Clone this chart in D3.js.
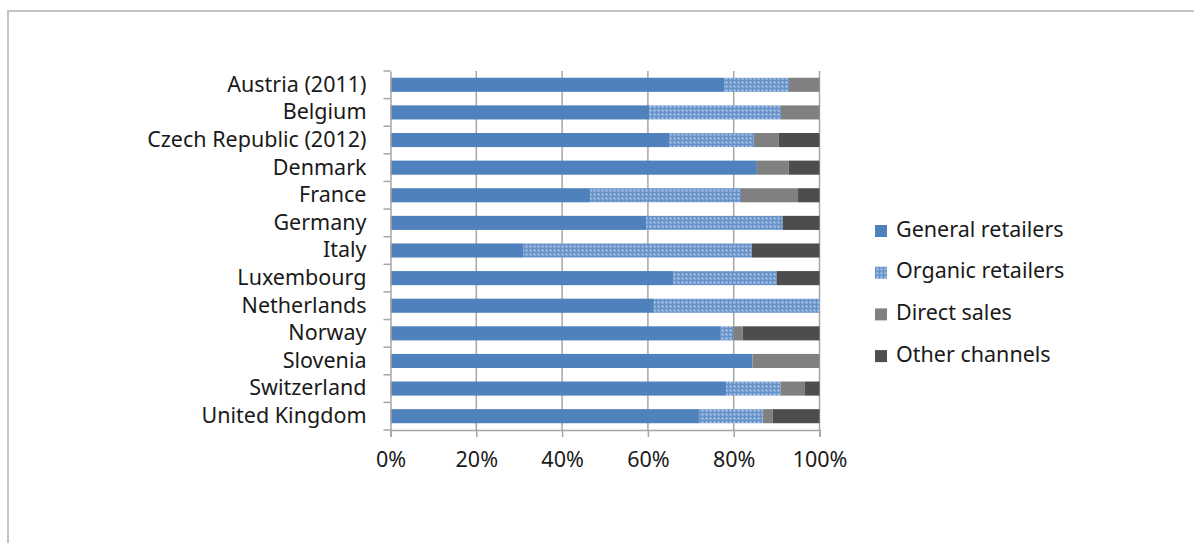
<!DOCTYPE html>
<html>
<head>
<meta charset="utf-8">
<script src="https://cdn.jsdelivr.net/npm/d3@7"></script>
<style>
  body { margin: 0; background: #fff; }
  svg text { font-family: 'Noto Sans', sans-serif; fill: #1a1a1a; }
</style>
</head>
<body>
<div id="chart"></div>
<script>
const countries = ['Austria (2011)', 'Belgium', 'Czech Republic (2012)', 'Denmark', 'France', 'Germany',
  'Italy', 'Luxembourg', 'Netherlands', 'Norway', 'Slovenia', 'Switzerland', 'United Kingdom'];
const seriesNames = ['General retailers', 'Organic retailers', 'Direct sales', 'Other channels'];
const general = [77.8, 60.4, 65.1, 85.4, 46.5, 59.7, 30.9, 66.0, 61.4, 77.0, 84.4, 78.2, 71.9];
const organic = [15.1, 30.6, 19.6, 0, 35.2, 31.7, 53.3, 24.0, 38.6, 2.9, 0, 12.7, 14.9];
const direct = [7.1, 9.0, 5.8, 7.4, 13.3, 0, 0, 0, 0, 2.2, 15.6, 5.6, 2.3];
const other = [0, 0, 9.5, 7.2, 5.0, 8.6, 15.8, 10.0, 0, 17.9, 0, 3.5, 10.9];
const xTicks = [0, 20, 40, 60, 80, 100];

const w = 1194, h = 543;
const plotLeft = 390.5, plotRight = 819.5, plotTop = 71, plotBottom = 430;

const svg = d3.select('#chart').append('svg')
  .attr('width', w)
  .attr('height', h);

// organic retailers hatch
const pat = svg.append('defs').append('pattern')
  .attr('id', 'organic')
  .attr('width', 4)
  .attr('height', 4)
  .attr('patternUnits', 'userSpaceOnUse');
pat.append('rect').attr('width', 4).attr('height', 4).attr('fill', '#84a8d6');
pat.append('rect').attr('width', 1).attr('height', 4).attr('fill', '#6792c9');
pat.append('rect').attr('width', 4).attr('height', 1).attr('fill', '#6792c9');
pat.append('rect').attr('x', 2).attr('y', 2).attr('width', 1).attr('height', 1).attr('fill', '#c2d4ec');

// outer frame
svg.append('rect')
  .attr('x', 8).attr('y', 11)
  .attr('width', w + 20).attr('height', h + 20)
  .attr('fill', 'none')
  .attr('stroke', '#c4c4c4')
  .attr('stroke-width', 2);

const xScale = d3.scaleLinear().domain([0, 100]).range([plotLeft, plotRight]);
const yScale = d3.scaleBand().domain(countries).range([plotTop, plotBottom]).paddingInner(0.49).paddingOuter(0.245);

// gridlines
svg.append('g')
  .selectAll('line')
  .data(xTicks.slice(1))
  .enter()
  .append('line')
  .attr('x1', d => xScale(d)).attr('x2', d => xScale(d))
  .attr('y1', plotTop).attr('y2', plotBottom)
  .attr('stroke', '#a6a6a6')
  .attr('stroke-width', 1.5);

const colors = ['#4f81bd', 'url(#organic)', '#808080', '#4d4d4d'];
const table = countries.map((c, i) => ({
  country: c,
  'General retailers': general[i],
  'Organic retailers': organic[i],
  'Direct sales': direct[i],
  'Other channels': other[i]
}));
const stacked = d3.stack().keys(seriesNames)(table);

svg.append('g')
  .selectAll('g')
  .data(stacked)
  .enter()
  .append('g')
  .attr('fill', (d, i) => colors[i])
  .selectAll('rect')
  .data(d => d)
  .enter()
  .append('rect')
  .attr('x', d => xScale(d[0]))
  .attr('width', d => Math.max(0, xScale(d[1]) - xScale(d[0])))
  .attr('y', d => yScale(d.data.country))
  .attr('height', yScale.bandwidth());

// axes
const xAxis = d3.axisBottom(xScale).tickValues(xTicks).tickFormat(d => d + '%').tickSize(7).tickPadding(15);
const gx = svg.append('g')
  .attr('transform', `translate(0, ${plotBottom})`)
  .call(xAxis);

const yAxis = d3.axisLeft(yScale).tickSize(0).tickPadding(24);
const gy = svg.append('g')
  .attr('transform', `translate(${plotLeft}, 0)`)
  .call(yAxis);

// category boundary ticks
const step = yScale.step();
svg.append('g')
  .selectAll('line')
  .data(d3.range(countries.length + 1))
  .enter()
  .append('line')
  .attr('x1', plotLeft - 7).attr('x2', plotLeft)
  .attr('y1', d => plotTop + d * step).attr('y2', d => plotTop + d * step)
  .attr('stroke', '#a6a6a6')
  .attr('stroke-width', 1.5);

svg.selectAll('.domain').attr('stroke', '#a6a6a6').attr('stroke-width', 1.5);
svg.selectAll('.tick line').attr('stroke', '#a6a6a6').attr('stroke-width', 1.5);
svg.selectAll('.tick text').attr('font-size', 21.5).attr('fill', '#1a1a1a');

// legend
const legend = svg.append('g')
  .selectAll('g')
  .data(seriesNames)
  .enter()
  .append('g')
  .attr('transform', (d, i) => `translate(875, ${229 + i * 41.7})`);

legend.append('rect')
  .attr('y', -4)
  .attr('width', 12)
  .attr('height', 12)
  .attr('fill', (d, i) => colors[i]);

legend.append('text')
  .attr('x', 21)
  .attr('dy', '0.35em')
  .attr('font-size', 21.5)
  .text(d => d);
</script>
</body>
</html>
